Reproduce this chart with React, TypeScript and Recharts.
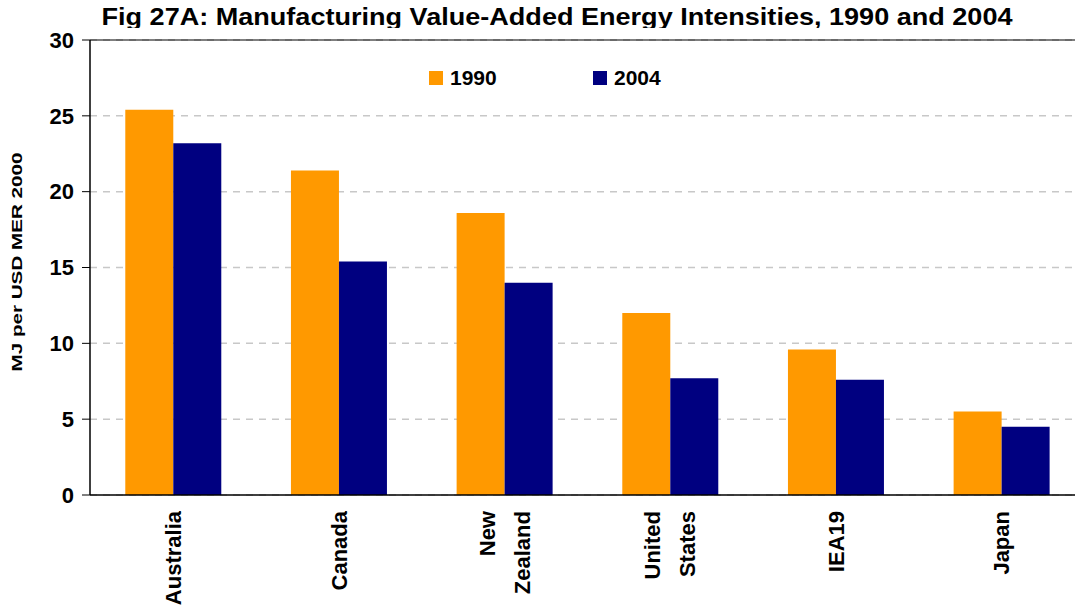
import { Bar, BarChart, CartesianGrid, Legend, ReferenceLine, XAxis, YAxis } from 'recharts';

const categories = ['Australia', 'Canada', 'New\nZealand', 'United\nStates', 'IEA19', 'Japan'];
const values1990 = [25.4, 21.4, 18.6, 12.0, 9.6, 5.5];
const values2004 = [23.2, 15.4, 14.0, 7.7, 7.6, 4.5];
const yTicks = [0, 5, 10, 15, 20, 25, 30];
const seriesNames = ['1990', '2004'];
const colors = ['#FF9900', '#000080'];

const FONT = '"Liberation Sans", Arial, sans-serif';

// rotated, possibly two-line category label
function CategoryTick({ x, y, payload }: any) {
  const lines = String(payload.value).split('\n');
  const n = lines.length;
  return (
    <g>
      {lines.map((line, i) => {
        const bx = x + 8 + (i - (n - 1) / 2) * 35;
        const by = y + 8;
        return (
          <text
            key={i}
            x={bx}
            y={by}
            transform={`rotate(-90, ${bx}, ${by})`}
            textAnchor="end"
            fontFamily={FONT}
            fontWeight="bold"
            fontSize={22}
            fill="#000"
          >
            {line}
          </text>
        );
      })}
    </g>
  );
}

function LegendBox() {
  return (
    <div style={{ display: 'flex', fontFamily: FONT, fontWeight: 'bold', fontSize: 21 }}>
      {seriesNames.map((name, i) => (
        <div key={name} style={{ display: 'flex', alignItems: 'center', width: 164 }}>
          <span style={{ display: 'inline-block', width: 14, height: 14, background: colors[i], marginRight: 7 }} />
          <span>{name}</span>
        </div>
      ))}
    </div>
  );
}

export default function App() {
  const data = categories.map((c, i) => ({ name: c, v1990: values1990[i], v2004: values2004[i] }));

  return (
    <div style={{ position: 'absolute', left: 0, top: 0, width: 1075, height: 609, overflow: 'hidden', background: '#fff' }}>
      <BarChart
        width={1084}
        height={609}
        data={data}
        margin={{ top: 40, right: 0, bottom: 0, left: 0 }}
        barCategoryGap="21.3%"
        barGap={0}
      >
        <CartesianGrid horizontal vertical={false} stroke="#c8c8c8" strokeDasharray="7 6" strokeWidth={1.5} />
        <XAxis
          dataKey="name"
          tick={<CategoryTick />}
          tickLine={false}
          axisLine={{ stroke: '#000', strokeWidth: 1.5 }}
          height={114}
          interval={0}
        />
        <YAxis
          domain={[0, 30]}
          ticks={yTicks}
          width={90}
          tickSize={8}
          tickMargin={8}
          tickLine={{ stroke: '#000' }}
          axisLine={{ stroke: '#000', strokeWidth: 1.5 }}
          tick={{ fontFamily: FONT, fontWeight: 'bold', fontSize: 22, fill: '#000' }}
          label={{
            content: () => (
              <text
                x={22}
                y={262}
                transform="rotate(-90, 22, 262)"
                textAnchor="middle"
                fontFamily={FONT}
                fontWeight="bold"
                fontSize={15}
                textLength={219}
                lengthAdjust="spacingAndGlyphs"
                fill="#000"
              >
                MJ per USD MER 2000
              </text>
            ),
          }}
        />
        <ReferenceLine y={30} stroke="#000" strokeWidth={1.2} />
        <Legend
          verticalAlign="middle"
          layout="horizontal"
          content={<LegendBox />}
          wrapperStyle={{ position: 'absolute', left: 429, top: 66, width: 340 }}
        />
        <Bar dataKey="v1990" name={seriesNames[0]} fill={colors[0]} isAnimationActive={false} />
        <Bar dataKey="v2004" name={seriesNames[1]} fill={colors[1]} isAnimationActive={false} />
      </BarChart>
      <svg width={1075} height={28} style={{ position: 'absolute', left: 0, top: 0 }}>
        <text
          x={557}
          y={25}
          textAnchor="middle"
          fontFamily={FONT}
          fontWeight="bold"
          fontSize={24}
          textLength={911}
          lengthAdjust="spacingAndGlyphs"
          fill="#000"
        >
          Fig 27A: Manufacturing Value-Added Energy Intensities, 1990 and 2004
        </text>
      </svg>
    </div>
  );
}
